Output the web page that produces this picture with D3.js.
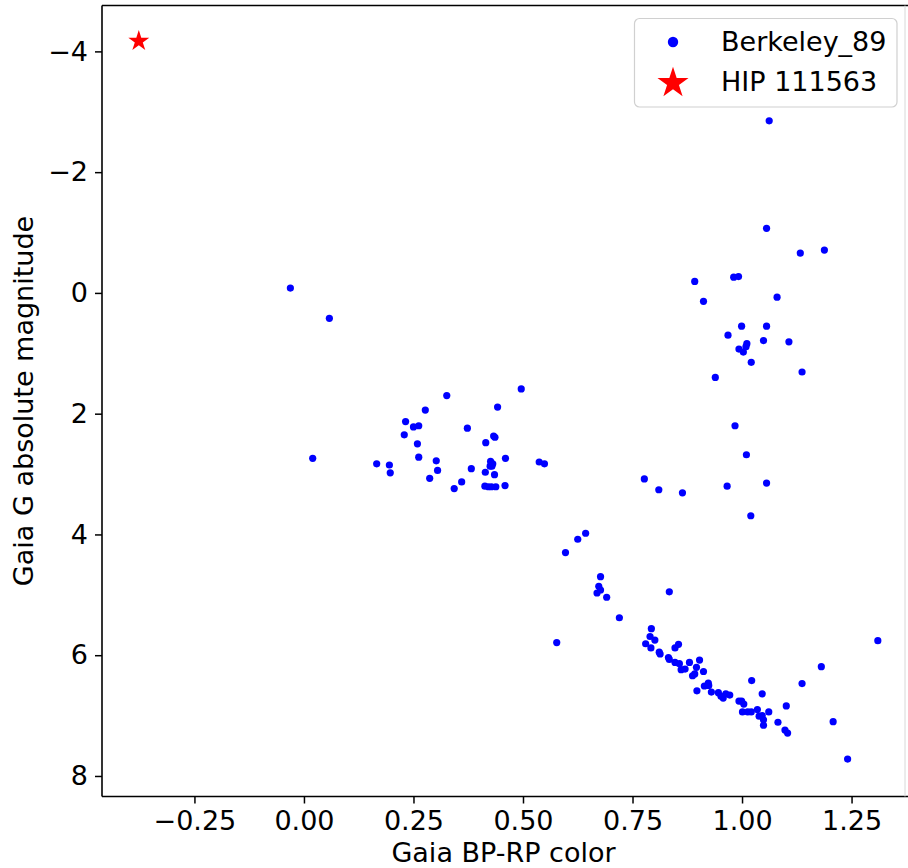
<!DOCTYPE html>
<html>
<head>
<meta charset="utf-8">
<script src="https://cdn.jsdelivr.net/npm/d3@7"></script>
<style>
  html, body { margin: 0; padding: 0; background: #fff; }
  svg { display: block; font-family: "DejaVu Sans", sans-serif; }
</style>
</head>
<body>
<svg id="chart" width="908" height="868"></svg>
<script>
// ---- Data ----
const clusterName = "Berkeley_89";
const starName = "HIP 111563";

const bpRp = [
  -0.031, 0.058, 0.496, 0.326, 0.442, 0.277, 0.232, 0.250, 0.262, 0.373,
  0.229, 0.433, 0.436, 0.259, 0.415, 0.262, 0.460, 0.302, 0.020, 0.166,
  0.195, 0.197, 0.305, 0.382, 0.426, 0.431, 0.425, 0.429, 0.414, 0.435,
  0.287, 0.360, 0.343, 0.413, 0.421, 0.428, 0.438, 0.459, 0.537, 0.549,
  1.062, 1.056, 1.133, 1.188, 0.892, 0.981, 0.992, 0.912, 1.080, 0.999,
  1.056, 0.968, 1.049, 1.107, 1.011, 1.009, 0.993, 1.003, 1.021, 1.137,
  0.939, 0.984, 1.010, 0.777, 0.810, 0.864, 0.966, 1.056, 1.020,
  0.643, 0.625, 0.597, 0.677, 0.673, 0.677, 0.669, 0.691, 0.834, 0.720,
  0.577, 1.310, 0.793, 0.790, 0.801, 0.780, 0.792, 0.811, 0.813, 0.855,
  0.847, 0.832, 0.834, 0.847, 0.857, 0.880, 0.903, 0.896, 0.861, 0.870,
  0.912, 0.887, 0.892, 0.897, 0.923, 0.914, 0.924, 0.930, 0.946, 0.952,
  0.957, 0.963, 0.972, 1.022, 1.046, 0.993, 0.999, 1.004, 1.001, 1.013,
  1.021, 1.035, 1.039, 1.046, 1.049, 1.049, 1.061, 1.101, 1.082, 1.098,
  1.104, 1.137, 1.181, 1.208, 1.241
];
const gMag = [
  -0.08, 0.42, 1.59, 1.70, 1.89, 1.94, 2.13, 2.22, 2.20, 2.24,
  2.35, 2.37, 2.39, 2.50, 2.48, 2.72, 2.74, 2.78, 2.74, 2.83,
  2.85, 2.98, 2.94, 2.91, 2.79, 2.83, 2.87, 2.87, 2.97, 3.01,
  3.07, 3.13, 3.24, 3.20, 3.21, 3.21, 3.21, 3.19, 2.80, 2.83,
  -2.85, -1.07, -0.66, -0.71, -0.19, -0.26, -0.27, 0.14, 0.07, 0.55,
  0.55, 0.70, 0.79, 0.81, 0.84, 0.89, 0.93, 0.98, 1.15, 1.31,
  1.40, 2.20, 2.68, 3.08, 3.26, 3.31, 3.20, 3.15, 3.69,
  3.98, 4.08, 4.30, 4.70, 4.86, 4.92, 4.97, 5.04, 4.95, 5.38,
  5.79, 5.76, 5.56, 5.69, 5.75, 5.81, 5.88, 5.95, 5.98, 5.82,
  5.88, 6.04, 6.07, 6.12, 6.14, 6.12, 6.08, 6.20, 6.24, 6.23,
  6.27, 6.34, 6.31, 6.59, 6.46, 6.51, 6.50, 6.61, 6.62, 6.68,
  6.71, 6.64, 6.66, 6.42, 6.64, 6.76, 6.76, 6.81, 6.94, 6.94,
  6.94, 6.90, 7.01, 7.00, 7.07, 7.16, 6.94, 6.84, 7.11, 7.24,
  7.29, 6.47, 6.19, 7.10, 7.72
];
const starBpRp = [-0.377];
const starGMag = [-4.17];

const xTicks = [-0.25, 0.00, 0.25, 0.50, 0.75, 1.00, 1.25];
const yTicks = [-4, -2, 0, 2, 4, 6, 8];
const xLabel = "Gaia BP-RP color";
const yLabel = "Gaia G absolute magnitude";

// ---- Layout ----
const svg = d3.select("#chart");
const plotL = 102, plotR = 905, plotT = 5.5, plotB = 796.5;
const fontSize = 27;

const x = d3.scaleLinear().domain([-0.461, 1.372]).range([plotL, plotR]);
const y = d3.scaleLinear().domain([-4.76, 8.34]).range([plotT, plotB]); // inverted magnitude axis

const fmtX = v => d3.format(".2f")(v).replace("-", "\u2212");
const fmtY = v => String(v).replace("-", "\u2212");

// points
const pts = bpRp.map((v, i) => ({ c: v, m: gMag[i] }));
svg.append("g").selectAll("circle").data(pts).join("circle")
  .attr("cx", d => x(d.c)).attr("cy", d => y(d.m)).attr("r", 3.6)
  .attr("fill", "#0000ff");

const star = d3.symbol().type(d3.symbolStar);
svg.append("g").selectAll("path").data(starBpRp.map((v, i) => ({ c: v, m: starGMag[i] })))
  .join("path")
  .attr("transform", d => `translate(${x(d.c)},${y(d.m)})`)
  .attr("d", star.size(136)())
  .attr("fill", "#ff0000");

// axes
const xAxis = svg.append("g").attr("transform", `translate(0,${plotB})`)
  .call(d3.axisBottom(x).tickValues(xTicks).tickFormat(fmtX).tickSize(7).tickPadding(7));
const yAxis = svg.append("g").attr("transform", `translate(${plotL},0)`)
  .call(d3.axisLeft(y).tickValues(yTicks).tickFormat(fmtY).tickSize(7).tickPadding(7));
[xAxis, yAxis].forEach(g => {
  g.select(".domain").remove();
  g.selectAll(".tick line").attr("stroke", "#000").attr("stroke-width", 1.5);
  g.selectAll(".tick text").attr("font-size", fontSize).attr("fill", "#000")
    .attr("font-family", "DejaVu Sans, sans-serif");
});

// spines
svg.append("line").attr("x1", plotL).attr("x2", plotR + 3).attr("y1", plotB).attr("y2", plotB)
  .attr("stroke", "#000").attr("stroke-width", 1.6);
svg.append("line").attr("x1", plotL).attr("x2", plotR + 3).attr("y1", plotT).attr("y2", plotT)
  .attr("stroke", "#000").attr("stroke-width", 1.6);
svg.append("line").attr("x1", plotL).attr("x2", plotL).attr("y1", plotT).attr("y2", plotB)
  .attr("stroke", "#000").attr("stroke-width", 1.6);
svg.append("line").attr("x1", plotR).attr("x2", plotR).attr("y1", plotT).attr("y2", plotB)
  .attr("stroke", "#d8d8d8").attr("stroke-width", 1);

// axis labels
svg.append("text").attr("x", (plotL + plotR) / 2).attr("y", 862)
  .attr("text-anchor", "middle").attr("font-size", fontSize).attr("fill", "#000")
  .text(xLabel);
svg.append("text").attr("transform", `translate(33,${(plotT + plotB) / 2}) rotate(-90)`)
  .attr("text-anchor", "middle").attr("font-size", fontSize).attr("fill", "#000")
  .text(yLabel);

// legend
const lg = svg.append("g");
lg.append("rect").attr("x", 634.5).attr("y", 18.5).attr("width", 262.5).attr("height", 88.5)
  .attr("rx", 5).attr("fill", "#fff").attr("fill-opacity", 0.8)
  .attr("stroke", "#d0d0d0").attr("stroke-width", 1.2);
lg.append("circle").attr("cx", 673).attr("cy", 42).attr("r", 5.2).attr("fill", "#0000ff");
lg.append("path").attr("transform", "translate(673,83)")
  .attr("d", star.size(300)()).attr("fill", "#ff0000");
lg.append("text").attr("x", 721).attr("y", 42).attr("dy", "0.35em")
  .attr("font-size", fontSize).attr("fill", "#000").text(clusterName);
lg.append("text").attr("x", 721).attr("y", 82).attr("dy", "0.35em")
  .attr("font-size", fontSize).attr("fill", "#000").text(starName);
</script>
</body>
</html>
